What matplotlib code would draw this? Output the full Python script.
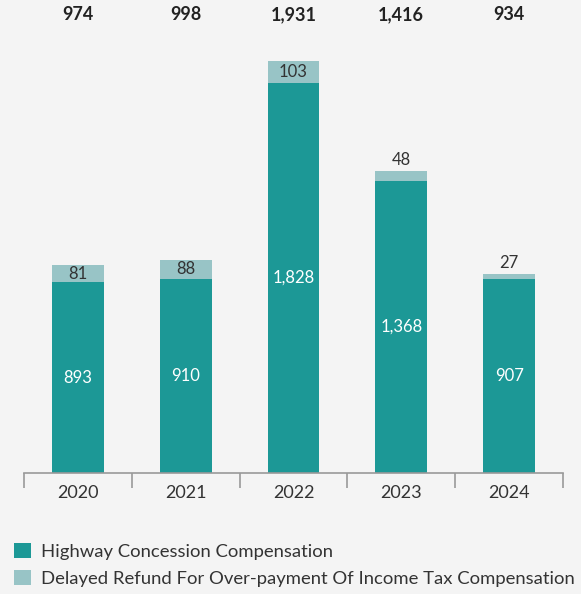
import numpy as np
import matplotlib
matplotlib.use("Agg")
import matplotlib.pyplot as plt
from matplotlib.patches import Patch

plt.rcParams['font.family'] = ['Lato', 'DejaVu Sans']

years = ['2020', '2021', '2022', '2023', '2024']
highway = [893, 910, 1828, 1368, 907]
refund = [81, 88, 103, 48, 27]
totals = [974, 998, 1931, 1416, 934]

dark_teal = '#1c9896'
light_teal = '#98c4c6'
bg = '#f4f4f4'
txt = '#333333'

fig = plt.figure(figsize=(5.81, 5.94), dpi=100, facecolor=bg)
ax = fig.add_axes([24/581, 121/594, 539/581, 412/594])
ax.set_facecolor(bg)

x = np.arange(len(years))
w = 0.48
ax.bar(x, highway, w, color=dark_teal)
ax.bar(x, refund, w, bottom=highway, color=light_teal)

ax.set_xlim(-0.5, len(years) - 0.5)
ax.set_ylim(0, max(totals))

# segment labels: small refund values go above the bar
for i in range(len(years)):
    ax.text(x[i], highway[i] / 2, f'{highway[i]:,}', ha='center', va='center',
            color='white', fontsize=12)
    if refund[i] >= 60:
        ax.text(x[i], highway[i] + refund[i] / 2, f'{refund[i]:,}', ha='center',
                va='center', color=txt, fontsize=12)
    else:
        ax.text(x[i], totals[i] + 12, f'{refund[i]:,}', ha='center',
                va='bottom', color=txt, fontsize=12)
    ax.text(x[i], 1.112, f'{totals[i]:,}', ha='center', va='center',
            transform=ax.get_xaxis_transform(), color='#222222',
            fontsize=13, fontweight='bold')

for s in ['top', 'right', 'left']:
    ax.spines[s].set_visible(False)
ax.spines['bottom'].set_color('#999999')
ax.spines['bottom'].set_linewidth(1.2)
ax.set_yticks([])

# ticks at category boundaries, year labels at centers
ax.set_xticks(np.arange(-0.5, len(years)))
ax.set_xticklabels([''] * (len(years) + 1))
ax.tick_params(axis='x', length=11, width=1.2, color='#999999')
for i, y in enumerate(years):
    ax.text(x[i], -20 / 412, y, ha='center', va='center', color=txt,
            fontsize=13, transform=ax.get_xaxis_transform())

handles = [Patch(facecolor=dark_teal), Patch(facecolor=light_teal)]
labels = ['Highway Concession Compensation',
          'Delayed Refund For Over-payment Of Income Tax Compensation']
fig.legend(handles, labels, loc='upper left',
           bbox_to_anchor=(14/581, 1 - 543/594), bbox_transform=fig.transFigure,
           frameon=False, fontsize=13.3, handlelength=0.9, handleheight=0.9,
           handletextpad=0.55, labelspacing=0.52, labelcolor=txt,
           borderpad=0, borderaxespad=0)

fig.savefig('out.png', dpi=100, facecolor=bg)
